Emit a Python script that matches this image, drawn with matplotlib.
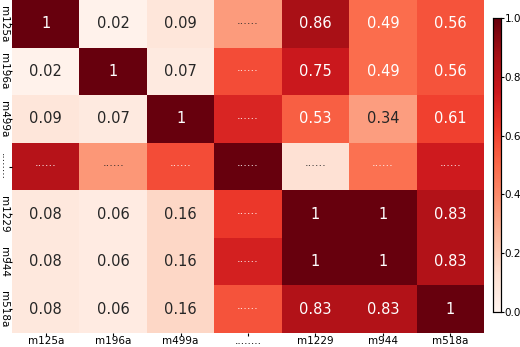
import numpy as np
import matplotlib
matplotlib.use("Agg")
import matplotlib.pyplot as plt
import seaborn as sns

labels = ["m125a", "m196a", "m499a", "........", "m1229", "m944", "m518a"]

# valeurs (cellules "......" estimées d'après la couleur)
row_m125a = [1.00, 0.02, 0.09, 0.35, 0.86, 0.49, 0.56]
row_m196a = [0.02, 1.00, 0.07, 0.58, 0.75, 0.49, 0.56]
row_m499a = [0.09, 0.07, 1.00, 0.70, 0.53, 0.34, 0.61]
row_dots = [0.82, 0.36, 0.58, 1.00, 0.12, 0.48, 0.74]
row_m1229 = [0.08, 0.06, 0.16, 0.64, 1.00, 1.00, 0.83]
row_m944 = [0.08, 0.06, 0.16, 0.72, 1.00, 1.00, 0.83]
row_m518a = [0.08, 0.06, 0.16, 0.56, 0.83, 0.83, 1.00]

data = np.array([row_m125a, row_m196a, row_m499a, row_dots,
                 row_m1229, row_m944, row_m518a])

hidden = 3  # ligne / colonne masquée
annot = np.empty(data.shape, dtype=object)
for i in range(data.shape[0]):
    for j in range(data.shape[1]):
        if i == hidden or j == hidden:
            annot[i, j] = "......"
        else:
            annot[i, j] = f"{data[i, j]:g}"

fig = plt.figure(figsize=(5.2, 3.47), dpi=100)
ax = fig.add_axes([12 / 520, 1 - 333 / 347, 472 / 520, 333 / 347])
cax = fig.add_axes([493 / 520, 1 - 312 / 347, 8 / 520, 294 / 347])

sns.heatmap(data, cmap="Reds", vmin=0, vmax=1, annot=annot, fmt="",
            annot_kws={"fontsize": 10.5}, ax=ax, cbar_ax=cax,
            xticklabels=labels, yticklabels=labels)

# les points "......" sont plus petits et centrés
for t in ax.texts:
    if t.get_text() == "......":
        t.set_fontsize(8)
        t.set_va("baseline")

ax.tick_params(axis="both", labelsize=7.5, length=2, pad=0.5)
ax.set_yticklabels(labels, rotation=270, va="center")
ax.set_xticklabels(labels, rotation=0)
cax.tick_params(labelsize=7.5, length=2, pad=0.5)
cax.set_yticks([0, 0.2, 0.4, 0.6, 0.8, 1.0])
cax.set_yticklabels(["0.0", "0.2", "0.4", "0.6", "0.8", "1.0"])
for s in cax.spines.values():
    s.set_visible(True)
    s.set_linewidth(0.8)

fig.savefig("out.png", dpi=100)
